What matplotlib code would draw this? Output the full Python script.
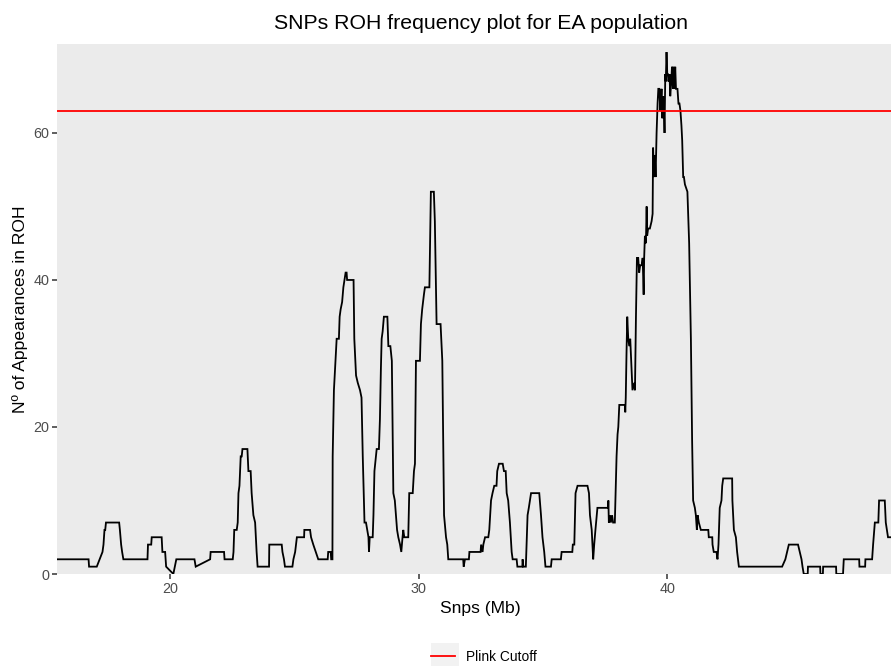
import matplotlib
matplotlib.use("Agg")
import matplotlib.pyplot as plt
from matplotlib.patches import Rectangle

plt.rcParams['font.family'] = ['Liberation Sans', 'DejaVu Sans']

# SNP position (Mb) and number of individuals with the SNP inside a ROH,
# read off the reference (corner points of the step-like trace)
snp_mb = [
    15.45, 16.72, 16.74, 17.05, 17.28, 17.32, 17.36, 17.39, 17.42, 17.95,
    17.98, 18.03, 18.07, 18.12, 19.09, 19.11, 19.24, 19.26, 19.66, 19.69,
    19.80, 19.84, 20.13, 20.25, 20.98, 21.03, 21.61, 21.63, 22.17, 22.19,
    22.52, 22.55, 22.58, 22.68, 22.72, 22.75, 22.79, 22.84, 22.88, 22.91,
    23.11, 23.15, 23.24, 23.28, 23.35, 23.42, 23.48, 23.52, 23.98, 23.99,
    24.49, 24.52, 24.58, 24.62, 24.92, 24.96, 25.03, 25.10, 25.39, 25.40,
    25.63, 25.67, 25.76, 25.86, 25.96, 26.34, 26.36, 26.46, 26.48, 26.53,
    26.54, 26.59, 26.70, 26.79, 26.82, 26.86, 26.92, 26.97, 27.06, 27.10,
    27.12, 27.38, 27.41, 27.48, 27.55, 27.64, 27.70, 27.75, 27.82, 27.88,
    27.93, 27.98, 28.00, 28.03, 28.15, 28.18, 28.22, 28.31, 28.40, 28.44,
    28.48, 28.51, 28.55, 28.60, 28.74, 28.78, 28.86, 28.92, 28.98, 29.04,
    29.13, 29.18, 29.25, 29.30, 29.35, 29.38, 29.42, 29.58, 29.62, 29.76,
    29.81, 29.85, 29.89, 30.05, 30.09, 30.14, 30.21, 30.25, 30.43, 30.49,
    30.61, 30.65, 30.69, 30.72, 30.88, 30.95, 30.99, 31.02, 31.10, 31.15,
    31.19, 31.79, 31.81, 31.86, 32.02, 32.04, 32.49, 32.51, 32.57, 32.60,
    32.67, 32.80, 32.84, 32.91, 32.97, 33.04, 33.13, 33.16, 33.23, 33.38,
    33.43, 33.50, 33.54, 33.60, 33.67, 33.74, 33.78, 33.94, 33.97, 34.17,
    34.18, 34.21, 34.31, 34.38, 34.43, 34.52, 34.85, 34.92, 34.98, 35.05,
    35.10, 35.32, 35.35, 35.72, 35.75, 36.18, 36.20, 36.26, 36.31, 36.39,
    36.79, 36.85, 36.89, 36.96, 37.02, 37.06, 37.11, 37.19, 37.62, 37.63,
    37.65, 37.70, 37.73, 37.78, 37.82, 37.89, 37.92, 37.96, 38.00, 38.03,
    38.07, 38.30, 38.31, 38.33, 38.36, 38.39, 38.43, 38.47, 38.51, 38.56,
    38.60, 38.67, 38.70, 38.74, 38.78, 38.83, 38.87, 38.91, 38.97, 39.01,
    39.05, 39.07, 39.10, 39.14, 39.17, 39.19, 39.23, 39.30, 39.37, 39.41,
    39.43, 39.46, 39.50, 39.53, 39.57, 39.61, 39.64, 39.68, 39.72, 39.74,
    39.77, 39.80, 39.84, 39.86, 39.89, 39.92, 39.94, 39.97, 40.00, 40.02,
    40.05, 40.09, 40.12, 40.16, 40.19, 40.23, 40.25, 40.29, 40.32, 40.35,
    40.37, 40.41, 40.45, 40.49, 40.53, 40.57, 40.60, 40.64, 40.67, 40.71,
    40.81, 40.88, 40.95, 41.00, 41.04, 41.11, 41.15, 41.19, 41.22, 41.27,
    41.35, 41.65, 41.67, 41.81, 41.82, 41.87, 41.98, 42.02, 42.06, 42.11,
    42.18, 42.21, 42.25, 42.61, 42.62, 42.68, 42.76, 42.81, 42.88, 44.62,
    44.75, 44.82, 44.89, 45.26, 45.33, 45.40, 45.44, 45.49, 45.65, 45.66,
    46.15, 46.16, 46.26, 46.27, 46.79, 46.80, 47.07, 47.10, 47.72, 47.73,
    47.96, 47.97, 48.24, 48.28, 48.35, 48.49, 48.52, 48.75, 48.79, 48.88,
    49.00,
]
roh_count = [
    2, 2, 1, 1, 3, 4, 6, 6, 7, 7,
    6, 4, 3, 2, 2, 4, 4, 5, 5, 3,
    3, 1, 0, 2, 2, 1, 2, 3, 3, 2,
    2, 3, 6, 6, 7, 11, 12, 16, 16, 17,
    17, 14, 14, 11, 8, 7, 3, 1, 1, 4,
    4, 3, 2, 1, 1, 2, 3, 5, 5, 6,
    6, 5, 4, 3, 2, 2, 3, 3, 2, 2,
    16, 25, 32, 32, 35, 36, 37, 39, 41, 41,
    40, 40, 32, 27, 26, 25, 24, 16, 7, 7,
    6, 5, 3, 5, 5, 8, 14, 17, 17, 21,
    28, 32, 33, 35, 35, 31, 31, 29, 11, 10,
    6, 5, 4, 3, 5, 6, 5, 5, 11, 11,
    14, 15, 29, 29, 34, 36, 38, 39, 39, 52,
    52, 48, 40, 34, 34, 29, 17, 8, 5, 4,
    2, 2, 1, 2, 2, 3, 3, 4, 3, 4,
    5, 5, 6, 10, 11, 12, 12, 14, 15, 15,
    14, 14, 11, 10, 7, 3, 2, 2, 1, 1,
    2, 1, 1, 8, 9, 11, 11, 8, 5, 3,
    1, 1, 2, 2, 3, 3, 4, 4, 11, 12,
    12, 11, 8, 6, 2, 4, 6, 9, 9, 10,
    7, 8, 7, 8, 7, 7, 11, 16, 19, 20,
    23, 23, 22, 24, 30, 35, 32, 31, 32, 28,
    25, 26, 25, 35, 43, 43, 41, 42, 42, 43,
    38, 43, 46, 45, 50, 46, 47, 47, 48, 49,
    58, 54, 57, 54, 60, 64, 66, 66, 63, 64,
    66, 62, 65, 64, 60, 68, 67, 71, 68, 68,
    67, 68, 65, 67, 69, 66, 69, 66, 69, 66,
    66, 66, 64, 64, 63, 61, 59, 54, 54, 53,
    52, 45, 32, 18, 10, 9, 8, 6, 8, 7,
    6, 6, 5, 5, 4, 3, 3, 2, 4, 9,
    10, 12, 13, 13, 10, 6, 5, 3, 1, 1,
    2, 3, 4, 4, 3, 2, 1, 0, 0, 1,
    1, 0, 0, 1, 1, 0, 0, 2, 2, 1,
    1, 2, 2, 4, 7, 7, 10, 10, 7, 5,
    5,
]

plink_cutoff = 63
x_ticks = [20, 30, 40]
y_ticks = [0, 20, 40, 60]

fig = plt.figure(figsize=(8.91, 6.66), dpi=100)
ax = fig.add_axes([57 / 891, 1 - 574 / 666, 834 / 891, 530 / 666])
ax.set_facecolor('#EBEBEB')
for s in ax.spines.values():
    s.set_visible(False)

ax.plot(snp_mb, roh_count, color='black', lw=1.3, solid_joinstyle='miter')
ax.axhline(plink_cutoff, color='red', lw=1.3, label='Plink Cutoff')

ax.set_xlim(15.45, 49.0)
ax.set_ylim(0, 72.1)
ax.set_xticks(x_ticks)
ax.set_yticks(y_ticks)
ax.tick_params(colors='#333333', labelcolor='#4D4D4D', labelsize=10.4,
               length=3.6, width=1.1, pad=2)

# the original panel runs a little past the right edge, so the titles sit
# slightly right of the visible panel centre
ax.set_title('SNPs ROH frequency plot for EA population', fontsize=15.3,
             pad=11, x=(481 - 57) / 834)
ax.set_xlabel('Snps (Mb)', fontsize=12.6, labelpad=4)
ax.xaxis.label.set_x((480 - 57) / 834)
ax.set_ylabel('Nº of Appearances in ROH', fontsize=12.6, labelpad=4)

# legend key background (grey square as in ggplot)
fig.patches.append(Rectangle((431 / 891, 0), 28 / 891, 23 / 666,
                             transform=fig.transFigure, facecolor='#F2F2F2',
                             edgecolor='none', zorder=0))
fig.legend(loc='center left', bbox_to_anchor=(430 / 891, 1 - 657 / 666),
           frameon=False, fontsize=9.9, handlelength=1.7, handletextpad=0.85,
           borderaxespad=0, borderpad=0.1)

fig.savefig('out.png', dpi=100)
